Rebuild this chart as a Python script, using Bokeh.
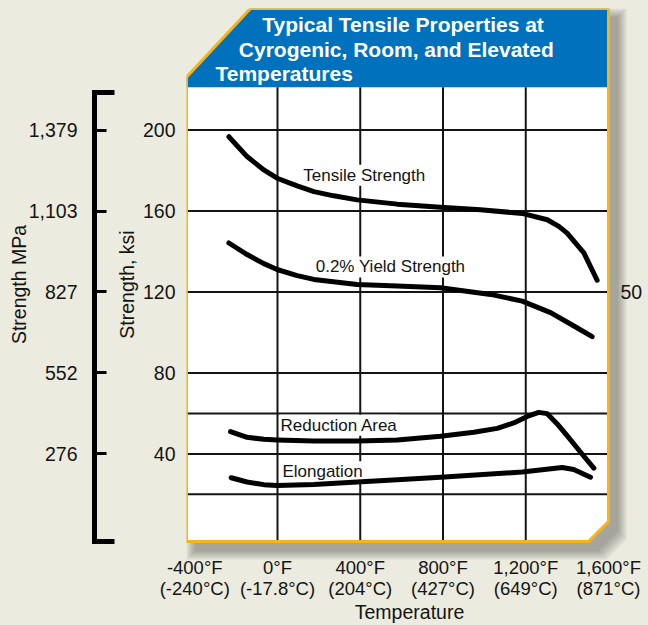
from bokeh.plotting import figure
from bokeh.models import Range1d, LinearAxis, FixedTicker
from bokeh.core.properties import value
from bokeh.embed import file_html
from bokeh.resources import INLINE

# ---------------- data ----------------
tensile_temp_f = [-235, -147, -66, -2, 95, 176, 272, 385, 579, 788, 981, 1183, 1304, 1360, 1400, 1481, 1545]
tensile_ksi = [196.7, 186.9, 180.3, 176.2, 172.4, 169.6, 167.5, 165.5, 163.4, 161.9, 160.6, 158.8, 155.7, 152.4, 149.1, 139.3, 125.8]

yield_temp_f = [-235, -147, -66, -2, 95, 176, 385, 579, 788, 1030, 1183, 1320, 1433, 1521]
yield_ksi = [144.2, 138.5, 134.0, 131.1, 128.1, 126.2, 123.7, 122.9, 122.1, 118.8, 115.5, 109.8, 103.2, 97.9]

reduction_temp_f = [-227, -147, -66, -2, 176, 385, 579, 788, 949, 1062, 1142, 1207, 1263, 1303, 1352, 1400, 1465, 1529]
reduction_val = [51.0, 48.2, 47.2, 46.9, 46.4, 46.4, 46.9, 48.7, 50.7, 52.6, 55.3, 58.5, 60.5, 59.9, 54.8, 49.0, 40.8, 33.0]

elong_temp_f = [-224, -147, -66, -2, 176, 385, 579, 788, 1183, 1376, 1432, 1513]
elong_val = [28.2, 26.1, 24.8, 24.4, 24.9, 26.1, 27.2, 28.5, 31.0, 33.3, 32.3, 28.5]

curve_names = ["Tensile Strength", "0.2% Yield Strength", "Reduction Area", "Elongation"]
curve_label_temp_f = [120, 180, 10, 19]
curve_label_val = [177.7, 132.4, 54.2, 31.2]

ksi_ticks = [40, 80, 120, 160, 200]
mpa_labels = ["276", "552", "827", "1,103", "1,379"]
grid_ksi = [20, 40, 60, 80, 120, 160, 200]
grid_temp_f = [0, 400, 800, 1200]
temp_ticks_f = [-400, 0, 400, 800, 1200, 1600]
temp_labels = ["-400°F\n(-240°C)", "0°F\n(-17.8°C)", "400°F\n(204°C)",
               "800°F\n(427°C)", "1,200°F\n(649°C)", "1,600°F\n(871°C)"]
right_ticks = [120]
right_labels = ["50"]
title_lines = ["Typical Tensile Properties at", "Cyrogenic, Room, and Elevated", "Temperatures"]

# ---------------- layout helpers (canvas pixels -> data) ----------------
PX0_X, PX_PER_F = 277.0, 0.206875
PX200_Y, PX_PER_KSI = 130.0, 2.03125
def fx(px):
    return (px - PX0_X) / PX_PER_F
def fy(py):
    return 200 - (py - PX200_Y) / PX_PER_KSI

BG = "#ecebdf"
BLUE = "#0071bc"
GOLD = "#f6b417"
INK = "#141414"
FONT = "Liberation Sans"

FR_L, FR_R, FR_T, FR_B = 186, 632, 8, 562

p = figure(width=648, height=625, output_backend="svg", toolbar_location=None,
           x_range=Range1d(fx(FR_L), fx(FR_R)), y_range=Range1d(fy(FR_B), fy(FR_T)),
           min_border_left=FR_L, min_border_right=648 - FR_R,
           min_border_top=FR_T, min_border_bottom=625 - FR_B)
p.background_fill_color = BG
p.border_fill_color = BG
p.outline_line_color = None
p.xgrid.visible = False
p.ygrid.visible = False

try:
    from bokeh.models import GlobalInlineStyleSheet
    p.stylesheets = [GlobalInlineStyleSheet(css="html, body {margin:0 !important; padding:0; background:%s; overflow:hidden;}" % BG)]
except Exception:
    pass

def box(e=0, dx=0, dy=0):
    L, T, R, B = 186 - e + dx, 8 - e + dy, 608 + e + dx, 543 + e + dy
    pts = [(L, T + 69), (L + 64, T), (R, T), (R, B - 20), (R - 20, B), (L, B)]
    return [fx(a) for a, b in pts], [fy(b) for a, b in pts]

# drop shadow (right / bottom only)
for e in [9, 7, 5, 3, 1]:
    xs, ys = box(e, 9, 9)
    p.patch(xs, ys, fill_color="black", fill_alpha=0.065, line_color=None)

# white panel
xs, ys = box()
p.patch(xs, ys, fill_color="white", line_color=None)

# blue banner
bx = [fx(186), fx(250), fx(608), fx(608), fx(186)]
by = [fy(77), fy(8), fy(8), fy(87), fy(87)]
p.patch(bx, by, fill_color=BLUE, line_color=None)

# grid lines (from tick arrays)
p.segment(x0=grid_temp_f, x1=grid_temp_f, y0=[fy(87)] * len(grid_temp_f), y1=[fy(543)] * len(grid_temp_f),
          line_color=INK, line_width=2)
p.segment(x0=[fx(186)] * len(grid_ksi), x1=[fx(608)] * len(grid_ksi), y0=grid_ksi, y1=grid_ksi,
          line_color=INK, line_width=2)

# curve labels
p.text(x=curve_label_temp_f, y=curve_label_val, text=curve_names,
       text_font=value(FONT), text_font_size="17px", text_color=INK,
       text_align="left", text_baseline="alphabetic",
       background_fill_color="white", padding=1)

# curves
for xs_, ys_ in [(tensile_temp_f, tensile_ksi), (yield_temp_f, yield_ksi),
                 (reduction_temp_f, reduction_val), (elong_temp_f, elong_val)]:
    p.line(xs_, ys_, line_color="black", line_width=5, line_cap="round", line_join="round")

# title text
p.text(x=[fx(261.7), fx(238.3), fx(215)], y=[fy(24.5), fy(49), fy(73)], text=title_lines,
       text_font=value(FONT), text_font_style="bold", text_font_size="21px",
       text_color="white", text_align="left", text_baseline="alphabetic")

# gold outline
xs, ys = box()
p.patch(xs, ys, fill_color=None, line_color=GOLD, line_width=3, line_join="miter")

# ---------------- axes ----------------
def style_labels(ax, size="19.5px"):
    ax.major_label_text_font = FONT
    ax.major_label_text_font_size = size
    ax.major_label_text_color = INK
    ax.axis_label_text_font = FONT
    ax.axis_label_text_font_size = size
    ax.axis_label_text_font_style = "normal"
    ax.axis_label_text_color = INK

# ksi axis (adjacent to panel)
ya = p.yaxis[0]
ya.ticker = FixedTicker(ticks=ksi_ticks)
ya.axis_line_color = None
ya.major_tick_line_color = None
ya.minor_tick_line_color = None
ya.major_tick_out = 0
ya.major_tick_in = 0
ya.major_label_standoff = 11
ya.axis_label = "Strength, ksi"
ya.axis_label_standoff = 2
style_labels(ya)

# spacer between the two left scales (one invisible tick above the scales)
spacer = LinearAxis(ticker=FixedTicker(ticks=[245]), axis_line_color=None,
                    major_tick_line_color=BG, minor_tick_line_color=None,
                    major_tick_out=18, major_tick_in=0, minor_tick_out=0, minor_tick_in=0,
                    major_label_overrides={245: ""}, major_label_text_font_size="1px",
                    major_label_standoff=0)
p.add_layout(spacer, "left")

# MPa bracket axis
lo, hi = fy(543), fy(92)
mpa = LinearAxis(ticker=FixedTicker(ticks=ksi_ticks, minor_ticks=[lo + 0.05, hi - 0.05]),
                 bounds=(lo, hi),
                 major_label_overrides={t: l for t, l in zip(ksi_ticks, mpa_labels)},
                 axis_line_color="black", axis_line_width=5, axis_line_cap="square",
                 major_tick_in=12, major_tick_out=0, major_tick_line_width=3, major_tick_line_color="black",
                 minor_tick_in=20, minor_tick_out=0, minor_tick_line_width=5, minor_tick_line_color="black",
                 major_label_standoff=17, axis_label="Strength MPa", axis_label_standoff=-4)
style_labels(mpa)
p.add_layout(mpa, "left")

# right scale label
ra = LinearAxis(ticker=FixedTicker(ticks=right_ticks),
                major_label_overrides={t: l for t, l in zip(right_ticks, right_labels)},
                axis_line_color=None, major_tick_line_color=None, minor_tick_line_color=None,
                major_tick_out=0, major_tick_in=0, major_label_standoff=-12)
style_labels(ra)
p.add_layout(ra, "right")

# temperature axis
xa = p.xaxis[0]
xa.ticker = FixedTicker(ticks=temp_ticks_f)
xa.major_label_overrides = {t: l for t, l in zip(temp_ticks_f, temp_labels)}
xa.axis_line_color = None
xa.major_tick_line_color = None
xa.minor_tick_line_color = None
xa.major_tick_out = 0
xa.major_tick_in = 0
xa.major_label_standoff = -4
xa.axis_label = "Temperature"
xa.axis_label_standoff = -1
style_labels(xa, "18.5px")
xa.axis_label_text_font_size = "19.5px"
xa.major_label_text_line_height = 1.0

open("out.html", "w").write(file_html(p, INLINE))
